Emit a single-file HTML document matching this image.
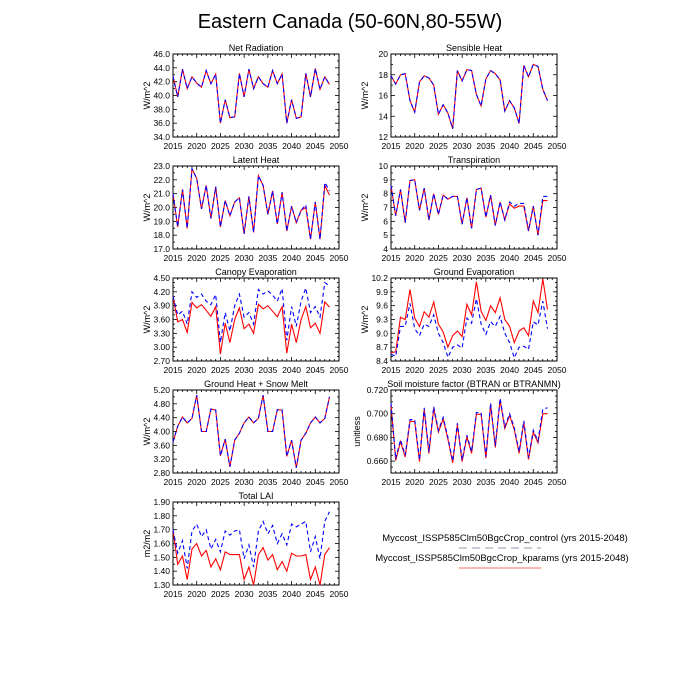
<!DOCTYPE html>
<html><head><style>body{margin:0;background:#fff}svg{display:block;font-family:"Liberation Sans",sans-serif}</style></head>
<body><svg id="s" width="700" height="700" xmlns="http://www.w3.org/2000/svg"></svg>
<script>
const S=document.getElementById('s');let h='';
h+='<text x="350" y="28" font-size="20" text-anchor="middle">Eastern Canada (50-60N,80-55W)</text>';
function P(x0,y0,title,ylab,ymin,ymax,ystep,dec,red,blue,minorN,lstart,yoff){
 const x1=x0+166,y1=y0+83,W=166,H=83;
 if(lstart===undefined)lstart=ymin;
 if(yoff===undefined)yoff=23;
 const X=v=>x0+(v-2015)/35*W, Y=v=>y1-(v-ymin)/(ymax-ymin)*H;
 h+=`<text x="${(x0+x1)/2}" y="${y0-3}" font-size="9" text-anchor="middle">${title}</text>`;
 h+=`<text transform="translate(${x0-yoff},${(y0+y1)/2}) rotate(-90)" font-size="9" text-anchor="middle">${ylab}</text>`;
 for(let yr=2015;yr<=2050;yr++){const x=X(yr),L=(yr%5==0)?4:2;
  h+=`<line x1="${x}" y1="${y1}" x2="${x}" y2="${y1-L}" stroke="#000" stroke-width="0.8"/><line x1="${x}" y1="${y0}" x2="${x}" y2="${y0+L}" stroke="#000" stroke-width="0.8"/>`;
  if(yr%5==0)h+=`<text x="${x}" y="${y1+12}" font-size="8.5" text-anchor="middle">${yr}</text>`;}
 const st=ystep/minorN;
 const i0=Math.ceil((ymin-lstart)/st-1e-6);
 for(let i=i0;lstart+i*st<=ymax+1e-9;i++){const v=lstart+i*st,y=Y(v),maj=((i%minorN)+minorN)%minorN==0,L=maj?4:2;
  h+=`<line x1="${x0}" y1="${y}" x2="${x0+L}" y2="${y}" stroke="#000" stroke-width="0.8"/><line x1="${x1}" y1="${y}" x2="${x1-L}" y2="${y}" stroke="#000" stroke-width="0.8"/>`;
  if(maj)h+=`<text x="${x0-3}" y="${y+3}" font-size="8.5" text-anchor="end">${v.toFixed(dec)}</text>`;}
 h+=`<rect x="${x0}" y="${y0}" width="${W}" height="${H}" fill="none" stroke="#000" stroke-width="1"/>`;
 const pts=a=>a.map((v,i)=>X(2015+i).toFixed(1)+','+Y(v).toFixed(1)).join(' ');
 h+=`<polyline points="${pts(red)}" fill="none" stroke="#f00" stroke-width="1.1"/>`;
 h+=`<polyline points="${pts(blue)}" fill="none" stroke="#00f" stroke-width="1.1" stroke-dasharray="4,3"/>`;
}
const nr=[42.8,39.8,43.8,41,42.7,41.8,41.2,43.6,41.7,43.1,36,39.4,36.8,36.9,43.2,39.8,43.8,41,42.7,41.7,41.2,43.6,41.7,43.1,36,39.4,36.7,36.9,43.2,39.8,43.9,40.9,42.7,41.6];
P(173,54,'Net Radiation','W/m^2',34,46,2,1,nr,nr,2);
const sh=[17.9,17.1,18,18.1,15.5,14.4,17.3,17.9,17.7,17,14.2,15.1,14.3,12.8,18.4,17.4,18.5,18.4,16.1,15,17.6,18.4,18.1,17.5,14.5,15.5,14.8,13.3,18.9,17.8,19,18.8,16.6,15.5];
P(391,54,'Sensible Heat','W/m^2',12,20,2,0,sh,sh,2);
const lb=[21,18.6,21.3,18.5,22.8,22.1,19.9,21.6,19.2,21.5,18.6,20.5,19.4,20.4,20.7,18.1,20.8,18.2,22.3,21.6,19.5,21.2,18.8,21.1,18.3,20.1,18.9,19.8,20.2,17.7,20.4,17.7,21.8,21.2];
const lr=lb.slice();lr[32]=21.6;lr[33]=20.9;lr[28]=20.0;
P(173,166,'Latent Heat','W/m^2',17,23,1,1,lr,lb,2);
const tb=[8.6,6.4,8.3,5.9,8.95,9,6.8,8.4,6.1,8,6.5,7.9,7.6,7.8,7.8,5.8,7.7,5.5,8.3,8.4,6.3,7.9,5.7,7.4,6.1,7.4,7.1,7.3,7.3,5.3,7.1,5,7.8,7.8];
const tr=tb.slice();tr[25]=7.25;tr[26]=6.95;tr[27]=7.1;tr[28]=7.1;tr[32]=7.5;tr[33]=7.5;
P(391,166,'Transpiration','W/m^2',4,10,1,0,tr,tb,2);
P(173,278,'Canopy Evaporation','W/m^2',2.7,4.5,0.3,2,
[4.1,3.55,3.6,3.32,3.97,3.85,3.92,3.8,3.67,3.88,2.85,3.52,3.1,3.6,3.85,3.4,3.5,3.3,3.93,3.83,3.9,3.78,3.66,3.88,2.87,3.5,3.1,3.6,3.88,3.42,3.52,3.3,3.98,3.87],
[4.1,3.7,3.78,3.5,4.2,4.08,4.15,4.0,3.92,4.14,3.1,3.75,3.35,3.9,4.15,3.65,3.75,3.5,4.25,4.15,4.22,4.13,4.0,4.27,3.15,3.88,3.45,4.0,4.28,3.75,3.88,3.65,4.4,4.33],3);
P(391,278,'Ground Evaporation','W/m^2',8.4,10.2,0.3,1,
[8.58,8.6,9.35,9.3,9.95,9.33,9.15,9.47,9.35,9.68,9.2,9.03,8.7,8.95,9.05,8.93,9.63,9.4,10.12,9.48,9.28,9.6,9.45,9.77,9.3,9.15,8.8,9.05,9.12,8.95,9.7,9.45,10.18,9.52],
[8.55,8.5,9.15,9.15,9.65,9.1,8.95,9.2,9.15,9.4,9.0,8.8,8.48,8.7,8.75,8.68,9.33,9.22,9.75,9.2,8.98,9.25,9.15,9.37,9.0,8.8,8.47,8.7,8.72,8.65,9.25,9.18,9.7,9.1],3);
const gh=[3.7,4.15,4.42,4.25,4.38,5.05,4.0,4.0,4.65,4.62,3.3,3.78,2.98,3.75,3.95,4.25,4.42,4.25,4.38,5.05,4.0,4.0,4.63,4.62,3.28,3.75,2.95,3.75,3.95,4.25,4.42,4.25,4.38,5.0];
P(173,390,'Ground Heat + Snow Melt','W/m^2',2.8,5.2,0.4,2,gh,gh,2);
const sb=[.709,.662,.678,.665,.695,.695,.661,.705,.668,.706,.686,.697,.680,.660,.692,.661,.682,.668,.701,.701,.664,.709,.673,.713,.689,.700,.688,.668,.694,.663,.686,.677,.704,.705];
const sr=sb.map(v=>v-0.0015);sr[32]=.700;sr[33]=.700;
P(391,390,'Soil moisture factor (BTRAN or BTRANMN)','unitless',0.65,0.72,0.02,3,sr,sb,4,0.66,31);
P(173,502,'Total LAI','m2/m2',1.3,1.9,0.1,2,
[1.70,1.45,1.51,1.34,1.56,1.60,1.51,1.55,1.43,1.49,1.41,1.54,1.52,1.52,1.52,1.34,1.43,1.30,1.52,1.57,1.48,1.52,1.41,1.47,1.40,1.53,1.51,1.51,1.52,1.34,1.43,1.30,1.52,1.57],
[1.70,1.53,1.62,1.42,1.69,1.74,1.65,1.70,1.56,1.63,1.54,1.69,1.66,1.69,1.70,1.49,1.59,1.43,1.69,1.76,1.67,1.73,1.60,1.67,1.59,1.74,1.72,1.74,1.76,1.54,1.65,1.49,1.76,1.83],2);
h+='<text x="505" y="541" font-size="9.5" text-anchor="middle">Myccost_ISSP585Clm50BgcCrop_control (yrs 2015-2048)</text>';
h+='<line x1="459" y1="548" x2="541" y2="548" stroke="#aab" stroke-width="1.2" stroke-dasharray="8,5"/>';
h+='<text x="502" y="561" font-size="9.5" text-anchor="middle">Myccost_ISSP585Clm50BgcCrop_kparams (yrs 2015-2048)</text>';
h+='<line x1="459" y1="568" x2="541" y2="568" stroke="#f88" stroke-width="1.2"/>';
S.innerHTML=h;
</script></body></html>
